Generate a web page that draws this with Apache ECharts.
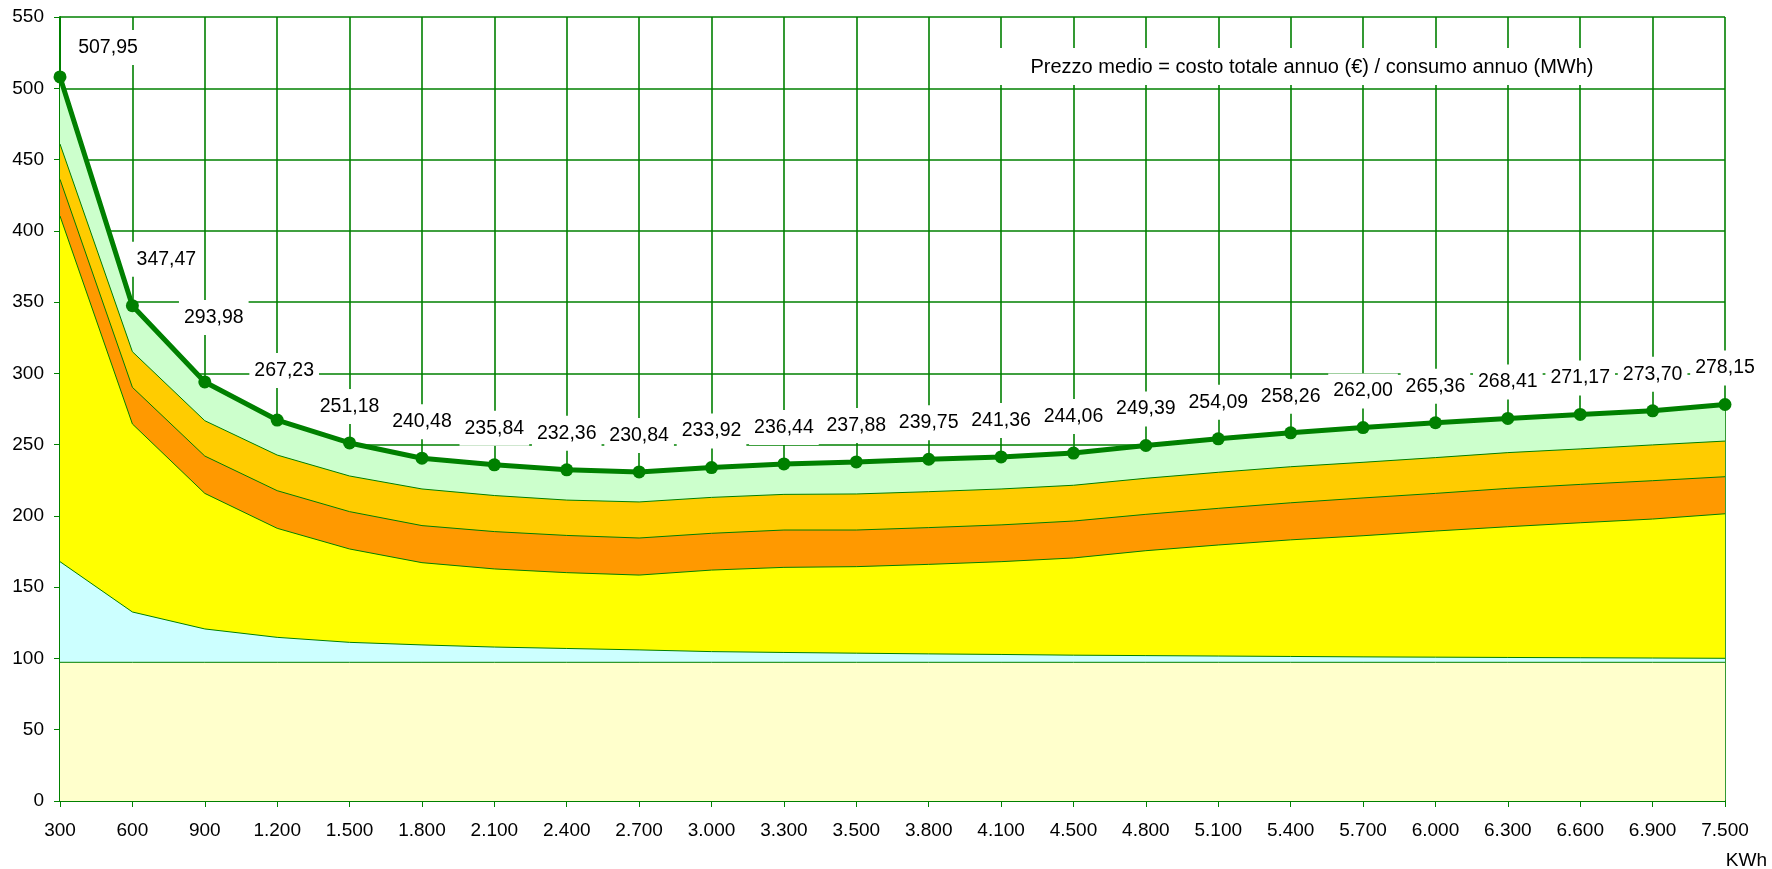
<!DOCTYPE html>
<html>
<head>
<meta charset="utf-8">
<script src="https://cdn.jsdelivr.net/npm/echarts@6/dist/echarts.min.js"></script>
<style>
html,body{margin:0;padding:0;background:#fff;}
#chart{width:1772px;height:869px;}
</style>
</head>
<body>
<div id="chart"></div>
<script>
const categories = ['300','600','900','1.200','1.500','1.800','2.100','2.400','2.700','3.000','3.300','3.500','3.800','4.100','4.500','4.800','5.100','5.400','5.700','6.000','6.300','6.600','6.900','7.500'];
const prezzoMedio = [507.95,347.47,293.98,267.23,251.18,240.48,235.84,232.36,230.84,233.92,236.44,237.88,239.75,241.36,244.06,249.39,254.09,258.26,262.00,265.36,268.41,271.17,273.70,278.15];
const topGold = [460.9,315.2,266.8,242.7,228.0,218.9,214.3,211.1,209.8,213.0,215.1,215.4,217.0,218.9,221.5,226.4,230.6,234.5,237.6,240.9,244.4,247.0,249.8,252.5];
const topOrange = [436.1,290.2,242.0,217.7,203.0,193.2,189.0,186.3,184.5,187.8,190.1,190.1,191.8,193.7,196.4,201.1,205.3,209.2,212.6,215.8,219.3,222.1,224.7,227.5];
const topYellow = [410.4,264.5,215.8,191.3,176.8,167.2,162.8,160.2,158.5,162.0,163.9,164.4,166.0,167.9,170.5,175.6,179.6,183.2,186.1,189.4,192.4,195.2,197.8,201.5];
const topCyan = [167.9,132.6,120.7,114.8,111.3,109.5,108.0,107.0,106.0,104.8,104.2,103.7,103.2,102.8,102.3,102.0,101.7,101.4,101.1,100.9,100.7,100.5,100.3,100.1];
const topBase = [97.3,97.3,97.3,97.3,97.3,97.3,97.3,97.3,97.3,97.3,97.3,97.3,97.3,97.3,97.3,97.3,97.3,97.3,97.3,97.3,97.3,97.3,97.3,97.3];
const yTicks = {min:0, max:550, interval:50};
const noteText = 'Prezzo medio = costo totale annuo (€) / consumo annuo (MWh)';
const unitText = 'KWh';

const GREEN = '#008000';
const FONT = '"Liberation Sans", Arial, sans-serif';

function areaSeries(name, data, color){
  return {
    name: name, type: 'line', data: data, symbol: 'none', silent: true,
    lineStyle: {color: GREEN, width: 1},
    areaStyle: {color: color, opacity: 1},
    z: 2
  };
}

const labelOffsets = {0:[48,7], 1:[34,-10], 2:[9,-28], 3:[7,-13]};
const lineData = prezzoMedio.map((v,i) => {
  const item = {value: v};
  if (labelOffsets[i]) item.label = {offset: labelOffsets[i]};
  return item;
});

const chart = echarts.init(document.getElementById('chart'), null, {renderer:'canvas'});
chart.setOption({
  animation: false,
  textStyle: {fontFamily: FONT},
  grid: {left: 60, right: 47, top: 17, bottom: 68, containLabel: false},
  xAxis: {
    type: 'category', data: categories, boundaryGap: false,
    axisLine: {show: true, lineStyle: {color: GREEN, width: 2}},
    axisTick: {show: true, length: 6, interval: 0, lineStyle: {color: GREEN, width: 1}},
    axisLabel: {interval: 0, margin: 20, color: '#000', fontSize: 19, fontFamily: FONT},
    splitLine: {show: true, interval: 0, lineStyle: {color: GREEN, width: 1.6}}
  },
  yAxis: {
    type: 'value', min: yTicks.min, max: yTicks.max, interval: yTicks.interval,
    axisLine: {show: true, lineStyle: {color: GREEN, width: 2}},
    axisTick: {show: true, length: 6, lineStyle: {color: GREEN, width: 1}},
    axisLabel: {margin: 16, color: '#000', fontSize: 19, fontFamily: FONT},
    splitLine: {show: true, lineStyle: {color: GREEN, width: 1.6}}
  },
  series: [
    areaSeries('verde', prezzoMedio, '#CCFFCC'),
    areaSeries('oro', topGold, '#FFCC00'),
    areaSeries('arancio', topOrange, '#FF9900'),
    areaSeries('giallo', topYellow, '#FFFF00'),
    areaSeries('ciano', topCyan, '#CCFFFF'),
    areaSeries('base', topBase, '#FFFFCC'),
    {
      name: 'Prezzo medio', type: 'line', data: lineData, z: 5,
      symbol: 'circle', symbolSize: 13,
      itemStyle: {color: GREEN},
      lineStyle: {color: GREEN, width: 5},
      label: {
        show: true, position: 'top', distance: 12.5,
        formatter: p => p.value.toFixed(2).replace('.', ','),
        color: '#000', fontSize: 19.5, fontFamily: FONT, lineHeight: 19,
        backgroundColor: '#fff', padding: [8,5]
      }
    }
  ],
  graphic: [
    {type: 'rect', z: 100, shape: {x: 990, y: 48, width: 644, height: 37}, style: {fill: '#fff'}},
    {type: 'text', z: 101, x: 1312, y: 67, style: {text: noteText, fill: '#000', font: '20px ' + FONT, textAlign: 'center', textVerticalAlign: 'middle'}},
    {type: 'text', z: 101, x: 1767, y: 861, style: {text: unitText, fill: '#000', font: '19px ' + FONT, textAlign: 'right', textVerticalAlign: 'middle'}}
  ]
});
</script>
</body>
</html>
